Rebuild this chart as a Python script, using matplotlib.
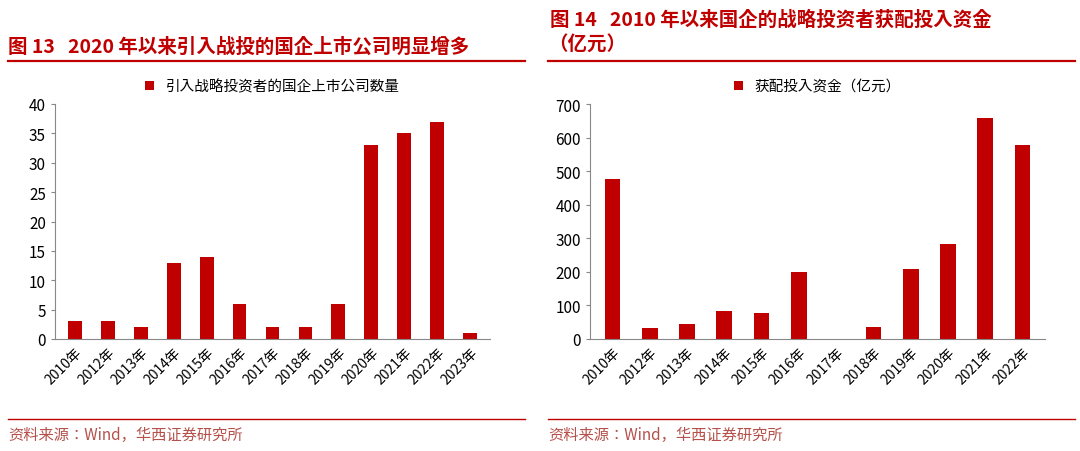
import matplotlib.pyplot as plt
from matplotlib.lines import Line2D

plt.rcParams["font.family"] = ["Noto Sans CJK SC", "Noto Sans CJK JP", "Noto Sans CJK TC", "DejaVu Sans"]
plt.rcParams["axes.unicode_minus"] = False

years1 = ["2010年", "2012年", "2013年", "2014年", "2015年", "2016年", "2017年",
          "2018年", "2019年", "2020年", "2021年", "2022年", "2023年"]
counts = [3, 3, 2, 13, 14, 6, 2, 2, 6, 33, 35, 37, 1]

years2 = ["2010年", "2012年", "2013年", "2014年", "2015年", "2016年", "2017年",
          "2018年", "2019年", "2020年", "2021年", "2022年"]
funds = [478, 33, 46, 83, 76, 200, 0, 35, 208, 283, 657, 578]

red = "#C00000"
W, H = 1080, 452
fig = plt.figure(figsize=(W / 100, H / 100), dpi=100)


def fx(px):
    return px / W


def fy(py):
    return 1 - py / H


def panel(left, width, labels, vals, ymax, step, legend):
    ax = fig.add_axes([fx(left), fy(340), fx(width), fy(105) - fy(340)])
    ax.bar(range(len(vals)), vals, width=0.42, color=red, label=legend)
    ax.set_xlim(-0.6, len(vals) - 0.4)
    ax.set_ylim(0, ymax)
    ax.set_yticks(range(0, ymax + 1, step))
    ax.set_xticks(range(len(vals)))
    ax.set_xticklabels(labels, rotation=45, ha="right", rotation_mode="anchor", fontsize=10)
    ax.tick_params(axis="y", labelsize=11, direction="out", length=3, color="#888888")
    ax.tick_params(axis="x", length=0, pad=4)
    for s in ("top", "right"):
        ax.spines[s].set_visible(False)
    for s in ("left", "bottom"):
        ax.spines[s].set_color("#888888")
    ax.legend(loc="lower center", bbox_to_anchor=(0.5, 1.0), frameon=False,
              fontsize=10.5, handlelength=0.6, handleheight=0.6, borderaxespad=0.3)
    return ax


panel(55, 435, years1, counts, 40, 5, "引入战略投资者的国企上市公司数量")
panel(590, 455, years2, funds, 700, 100, "获配投入资金（亿元）")

fig.text(fx(8), fy(47), "图 13   2020 年以来引入战投的国企上市公司明显增多",
         color=red, fontsize=14, fontweight="bold", va="center")
fig.text(fx(550), fy(20), "图 14   2010 年以来国企的战略投资者获配投入资金",
         color=red, fontsize=14, fontweight="bold", va="center")
fig.text(fx(548), fy(45), "（亿元）", color=red, fontsize=14, fontweight="bold", va="center")

for x0, x1 in ((8, 525), (548, 1075)):
    for yy in (62, 420):
        fig.add_artist(Line2D([fx(x0), fx(x1)], [fy(yy), fy(yy)], color=red,
                              lw=1.6 if yy == 62 else 1.0))
fig.text(fx(8), fy(435), "资料来源：Wind，华西证券研究所", color="#B5504A", fontsize=11, va="center")
fig.text(fx(548), fy(435), "资料来源：Wind，华西证券研究所", color="#B5504A", fontsize=11, va="center")

fig.savefig("out.png", dpi=100)
